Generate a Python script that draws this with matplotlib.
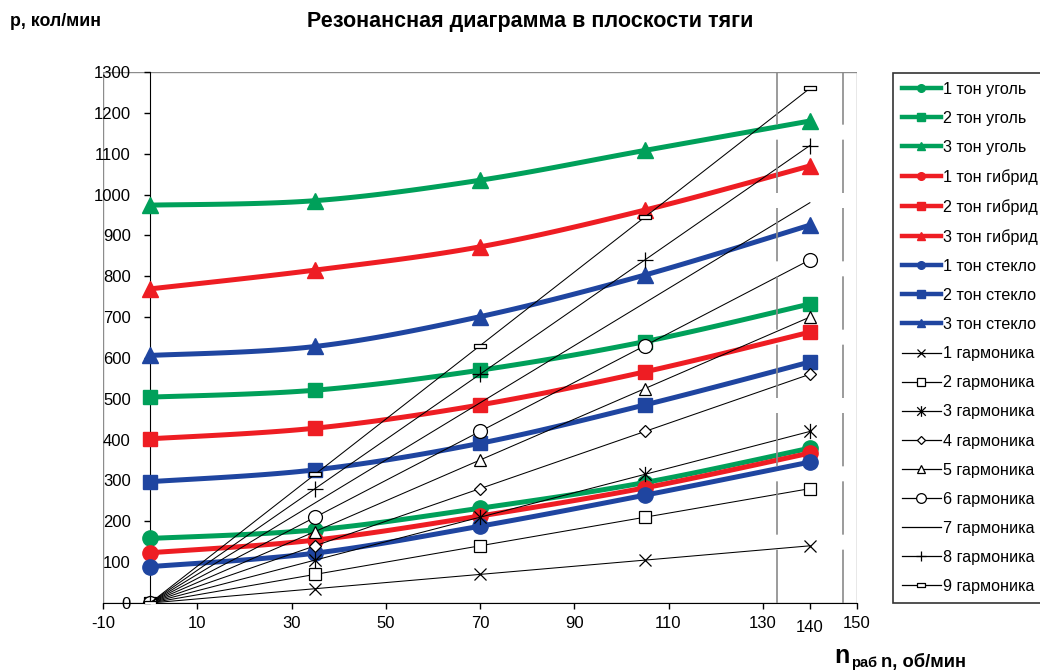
import numpy as np
import matplotlib.pyplot as plt
from matplotlib.lines import Line2D
from matplotlib.path import Path
from matplotlib.patches import Rectangle

plt.rcParams['font.family'] = ['Liberation Sans', 'DejaVu Sans']

# Частота вращения, об/мин
n = [0, 35, 70, 105, 140]

# Собственные частоты, кол/мин
ugol1 = [158, 179, 232, 295, 379]
ugol2 = [504, 521, 570, 640, 732]
ugol3 = [974, 985, 1035, 1108, 1180]
gibrid1 = [123, 154, 213, 282, 367]
gibrid2 = [402, 428, 485, 566, 663]
gibrid3 = [769, 815, 872, 962, 1070]
steklo1 = [89, 122, 188, 264, 345]
steklo2 = [297, 326, 391, 485, 590]
steklo3 = [606, 628, 701, 803, 925]

# Гармоники возмущающей силы
garm1 = [0, 35, 70, 105, 140]
garm2 = [0, 70, 140, 210, 280]
garm3 = [0, 105, 210, 315, 420]
garm4 = [0, 140, 280, 420, 560]
garm5 = [0, 175, 350, 525, 700]
garm6 = [0, 210, 420, 630, 840]
garm7 = [0, 245, 490, 735, 980]
garm8 = [0, 280, 560, 840, 1120]
garm9 = [0, 315, 630, 945, 1260]

# Рабочий диапазон оборотов (±5%)
n_rab = [133, 147]

GREEN = '#00A05A'
RED = '#EE1D23'
BLUE = '#1F45A0'


def smooth(x, y, steps=30):
    # сглаживание кривыми Безье, как в Excel
    pts = np.column_stack([x, y]).astype(float)
    p = np.vstack([pts[0], pts, pts[-1]])
    t = np.linspace(0, 1, steps)[:, None]
    out = []
    for i in range(1, len(p) - 2):
        p0, p1, p2, p3 = p[i - 1], p[i], p[i + 1], p[i + 2]
        c1 = p1 + (p2 - p0) / 6
        c2 = p2 - (p3 - p1) / 6
        seg = (1 - t)**3 * p1 + 3 * (1 - t)**2 * t * c1 + 3 * (1 - t) * t**2 * c2 + t**3 * p2
        out.append(seg if i == 1 else seg[1:])
    out = np.vstack(out)
    return out[:, 0], out[:, 1]


star = Path([(-1, -1), (1, 1), (-1, 1), (1, -1), (0, -1.25), (0, 1.25)],
            [Path.MOVETO, Path.LINETO, Path.MOVETO, Path.LINETO, Path.MOVETO, Path.LINETO])
dash = Path([(-1, -0.35), (1, -0.35), (1, 0.35), (-1, 0.35), (-1, -0.35)],
            [Path.MOVETO, Path.LINETO, Path.LINETO, Path.LINETO, Path.CLOSEPOLY])

tones = [
    ('1 тон уголь', ugol1, GREEN, 'o', 11),
    ('2 тон уголь', ugol2, GREEN, 's', 10),
    ('3 тон уголь', ugol3, GREEN, '^', 11),
    ('1 тон гибрид', gibrid1, RED, 'o', 11),
    ('2 тон гибрид', gibrid2, RED, 's', 10),
    ('3 тон гибрид', gibrid3, RED, '^', 11),
    ('1 тон стекло', steklo1, BLUE, 'o', 11),
    ('2 тон стекло', steklo2, BLUE, 's', 10),
    ('3 тон стекло', steklo3, BLUE, '^', 11),
]

harmonics = [
    ('1 гармоника', garm1, 'x', 9),
    ('2 гармоника', garm2, 's', 8),
    ('3 гармоника', garm3, star, 11),
    ('4 гармоника', garm4, 'D', 6),
    ('5 гармоника', garm5, '^', 9),
    ('6 гармоника', garm6, 'o', 10),
    ('7 гармоника', garm7, None, 0),
    ('8 гармоника', garm8, '+', 11),
    ('9 гармоника', garm9, dash, 9),
]

fig = plt.figure(figsize=(10.4, 6.72), dpi=100)
ax = fig.add_axes([103 / 1040, 1 - 603 / 672, 754 / 1040, 531 / 672])

handles = []
labels = []
for name, vals, col, mk, ms in tones:
    sx, sy = smooth(n, vals)
    ax.plot(sx, sy, color=col, lw=3.6, solid_capstyle='round', zorder=2)
    ax.plot(n, vals, ls='none', marker=mk, ms=ms, color=col, mec=col, zorder=2)
    handles.append(Line2D([], [], color=col, lw=3.2, marker=mk, ms=5.5))
    labels.append(name)

for name, vals, mk, ms in harmonics:
    ax.plot(n, vals, color='black', lw=0.75, marker=mk, ms=ms, mfc='white',
            mec='black', mew=0.9, zorder=3)
    handles.append(Line2D([], [], color='black', lw=0.9, marker=mk, ms=ms * 0.7,
                          mfc='white', mec='black', mew=0.9))
    labels.append(name)

# границы рабочего диапазона
ax.vlines(n_rab, 0, 1300, colors='#8a8a8a', lw=1.2, linestyles=(0, (32, 9)), zorder=4)

ax.set_xlim(-10, 150)
ax.set_ylim(0, 1300)
xt = [-10, 10, 30, 50, 70, 90, 110, 130, 140, 150]
ax.set_xticks(xt)
ax.set_xticklabels([str(v) for v in xt])
ax.set_yticks(range(0, 1301, 100))

for s in ['top', 'right']:
    ax.spines[s].set_visible(False)
ax.spines['left'].set_position(('data', 0))
ax.spines['left'].set_color('black')
ax.spines['bottom'].set_color('black')
ax.spines['left'].set_zorder(1)
ax.add_patch(Rectangle((0, 0), 1, 1, transform=ax.transAxes, fill=False,
                       edgecolor='#8c8c8c', lw=1.0, zorder=0.5))
ax.tick_params(axis='y', direction='out', length=4, width=1, pad=10, labelsize=12)
ax.tick_params(axis='x', direction='out', length=4, width=1, pad=5, labelsize=12)
for lab in ax.get_xticklabels():
    if lab.get_text() == '140':
        lab.set_y(-0.008)

leg = fig.legend(handles, labels, loc='upper left',
                 bbox_to_anchor=(893 / 1040, 1 - 73 / 672),
                 frameon=True, fancybox=False, edgecolor='black', fontsize=11.6,
                 handlelength=2.4, handletextpad=0.15, labelspacing=0.875,
                 borderpad=0.55, borderaxespad=0)
leg.get_frame().set_linewidth(1.2)

fig.text(10 / 1040, 1 - 22 / 672, 'p, кол/мин', fontsize=12.8, weight='bold', va='center')
fig.text(530 / 1040, 1 - 22 / 672, 'Резонансная диаграмма в плоскости тяги',
         fontsize=15.5, weight='bold', ha='center', va='center')
fig.text(834 / 1040, 1 - 663 / 672, 'n', fontsize=18, weight='bold', va='baseline')
fig.text(851 / 1040, 1 - 667 / 672, 'раб', fontsize=10.5, weight='bold', va='baseline')
fig.text(881 / 1040, 1 - 662 / 672, 'n, об/мин', fontsize=13.2, weight='bold', va='center')

fig.savefig('out.png', dpi=100)
